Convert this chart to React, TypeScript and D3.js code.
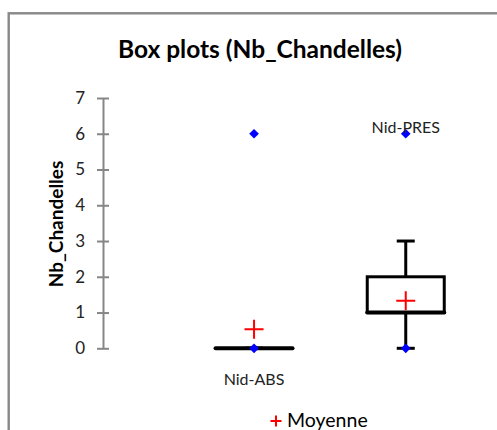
import { useEffect, useRef } from 'react';
import * as d3 from 'd3';

const categories = ['Nid-ABS', 'Nid-PRES'];
const whiskerLow = [0, 0];
const q1 = [0, 1];
const medians = [0, 1];
const q3 = [0, 2];
const whiskerHigh = [0, 3];
const means = [0.53, 1.33];
const minVals = [0, 0];
const maxVals = [6, 6];
const labelSide = ['below', 'above'];
const yTicks = [0, 1, 2, 3, 4, 5, 6, 7];

const FONT = 'Lato, "Open Sans", sans-serif';

export default function App() {
  const svgRef = useRef<SVGSVGElement>(null);

  useEffect(() => {
    if (!svgRef.current) return;
    const svg = d3.select(svgRef.current);
    svg.selectAll('*').remove();

    const width = 497;
    const height = 430;

    // cadre du graphique
    svg.append('rect')
      .attr('x', 8.7)
      .attr('y', 13.3)
      .attr('width', 520)
      .attr('height', 450)
      .attr('fill', '#fff')
      .attr('stroke', '#888')
      .attr('stroke-width', 2.4);

    const y = d3.scaleLinear().domain([0, 7]).range([348.3, 98]);
    const x = d3.scaleBand<string>().domain(categories).range([178.2, 481.6]);
    const cx = (c: string) => (x(c) || 0) + x.bandwidth() / 2;
    const boxW = 77;
    const capW = 18;

    // titre
    svg.append('text')
      .attr('x', 260)
      .attr('y', 58)
      .attr('text-anchor', 'middle')
      .attr('font-family', FONT)
      .attr('font-weight', 'bold')
      .attr('font-size', 24.5)
      .attr('fill', '#000')
      .text('Box plots (Nb_Chandelles)');

    // axe Y
    const axisX = 103;
    const axis = svg.append('g')
      .attr('transform', `translate(${axisX},0)`)
      .call(d3.axisLeft(y).tickValues(yTicks).tickFormat(d3.format('d')).tickSize(6).tickSizeOuter(0).tickPadding(12));
    axis.select('.domain').attr('stroke', '#868686').attr('stroke-width', 2);
    axis.selectAll('.tick line')
      .attr('x1', -6)
      .attr('x2', 6)
      .attr('stroke', '#868686')
      .attr('stroke-width', 2);
    axis.selectAll('.tick text')
      .attr('font-family', FONT)
      .attr('font-size', 17)
      .attr('fill', '#222');

    svg.append('text')
      .attr('transform', `translate(62.5,224) rotate(-90)`)
      .attr('text-anchor', 'middle')
      .attr('font-family', FONT)
      .attr('font-weight', 'bold')
      .attr('font-size', 19)
      .attr('fill', '#000')
      .text('Nb_Chandelles');

    categories.forEach((c, i) => {
      const xc = cx(c);
      const g = svg.append('g');

      // moustaches
      g.append('line')
        .attr('x1', xc).attr('x2', xc)
        .attr('y1', y(q3[i])).attr('y2', y(whiskerHigh[i]))
        .attr('stroke', '#000').attr('stroke-width', 3);
      g.append('line')
        .attr('x1', xc).attr('x2', xc)
        .attr('y1', y(q1[i])).attr('y2', y(whiskerLow[i]))
        .attr('stroke', '#000').attr('stroke-width', 3);
      [whiskerLow[i], whiskerHigh[i]].forEach(v => {
        g.append('line')
          .attr('x1', xc - capW / 2).attr('x2', xc + capW / 2)
          .attr('y1', y(v)).attr('y2', y(v))
          .attr('stroke', '#000').attr('stroke-width', 3);
      });

      // boîte
      if (q3[i] > q1[i]) {
        g.append('rect')
          .attr('x', xc - boxW / 2)
          .attr('y', y(q3[i]))
          .attr('width', boxW)
          .attr('height', y(q1[i]) - y(q3[i]))
          .attr('fill', 'none')
          .attr('stroke', '#000')
          .attr('stroke-width', 3);
      }
      g.append('line')
        .attr('x1', xc - boxW / 2).attr('x2', xc + boxW / 2)
        .attr('y1', y(medians[i])).attr('y2', y(medians[i]))
        .attr('stroke', '#000').attr('stroke-width', 4)
        .attr('stroke-linecap', 'round');

      // moyenne
      const s = 9.5;
      const my = y(means[i]);
      g.append('path')
        .attr('d', `M${xc - s},${my}H${xc + s}M${xc},${my - s}V${my + s}`)
        .attr('stroke', '#ff0000')
        .attr('stroke-width', 2);

      // min / max
      const diamond = d3.symbol().type(d3.symbolDiamond2).size(60);
      [minVals[i], maxVals[i]].forEach(v => {
        g.append('path')
          .attr('d', diamond)
          .attr('transform', `translate(${xc},${y(v)})`)
          .attr('fill', '#0000ff');
      });

      // étiquette
      const ly = labelSide[i] === 'below' ? y(minVals[i]) + 37 : y(maxVals[i]) - 1;
      g.append('text')
        .attr('x', xc)
        .attr('y', ly)
        .attr('text-anchor', 'middle')
        .attr('font-family', FONT)
        .attr('font-size', 16)
        .attr('fill', '#222')
        .text(c);
    });

    // légende
    const leg = svg.append('g').attr('transform', 'translate(276,421)');
    leg.append('path')
      .attr('d', 'M-5.5,0H5.5M0,-5.5V5.5')
      .attr('stroke', '#ff0000')
      .attr('stroke-width', 2);
    leg.append('text')
      .attr('x', 11)
      .attr('y', 5.5)
      .attr('font-family', FONT)
      .attr('font-size', 19.5)
      .attr('fill', '#000')
      .text('Moyenne');

    svg.attr('width', width).attr('height', height);
  }, []);

  return (
    <div style={{ position: 'absolute', left: 0, top: 0, width: 497, height: 430, overflow: 'hidden' }}>
      <svg ref={svgRef} width={497} height={430} style={{ display: 'block' }}></svg>
    </div>
  );
}
